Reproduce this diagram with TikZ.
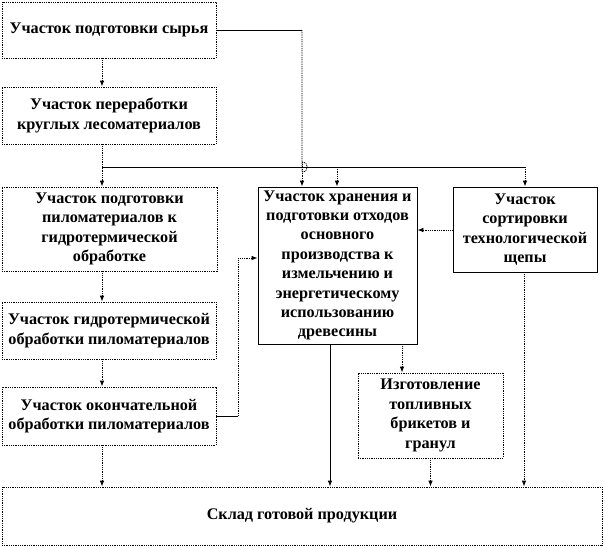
\documentclass[tikz,border=0pt]{standalone}
\usepackage{fontspec}
\setmainfont{Liberation Serif}
\usetikzlibrary{arrows.meta}

\begin{document}
\begin{tikzpicture}[x=1pt,y=-1pt,
		block/.style={draw, dash pattern=on 1pt off 0.8pt, line width=0.8pt, align=center, inner sep=1pt,
			font=\bfseries\fontsize{16.2}{19.6}\selectfont},
		mainblock/.style={block, solid},
		flow/.style={dash pattern=on 1pt off 0.8pt, line width=0.8pt, -{Latex[length=6pt,width=4.5pt]}},
		feed/.style={solid, line width=0.8pt}]
		\def \xl {102}
		\def \yb {167}

		\useasboundingbox (0,0) rectangle (605,547);

		\node[block, minimum width=214, minimum height=56] (raw) at (109,30) {Участок подготовки сырья};
		\node[block, minimum width=214, minimum height=57] (logs) at (109,115.5) {Участок переработки\\круглых лесоматериалов};
		\node[block, minimum width=215, minimum height=84] (prep) at (109.5,229) {Участок подготовки\\пиломатериалов к\\гидротермической\\обработке};
		\node[block, minimum width=214, minimum height=57] (hydro) at (109,330.5) {Участок гидротермической\\обработки пиломатериалов};
		\node[block, minimum width=214, minimum height=58] (final) at (109,416) {Участок окончательной\\обработки пиломатериалов};
		\node[mainblock, minimum width=159, minimum height=157, font=\bfseries\fontsize{16.2}{19.4}\selectfont] (waste) at (337.5,265.5)
			{Участок хранения и\\подготовки отходов\\основного\\производства к\\измельчению и\\энергетическому\\использованию\\древесины};
		\node[mainblock, minimum width=144, minimum height=85] (chips) at (525,229.5) {Участок\\сортировки\\технологической\\щепы};
		\node[block, minimum width=145, minimum height=85] (fuel) at (430.5,415.5) {Изготовление\\топливных\\брикетов и\\гранул};
		\node[block, minimum width=600, minimum height=58] (store) at (302,516) {Склад готовой продукции};

		\coordinate (bus) at (\xl,\yb);
		\coordinate (hop) at (302,\yb);
		\coordinate (back) at (238,258);

		\draw[flow] (raw.south -| bus) -- (logs.north -| bus);
		\draw[flow] (logs.south -| bus) -- (prep.north -| bus);
		\draw[feed] (bus) -- (525,\yb);
		\draw[flow] (337,\yb) -- (waste.north -| 337,0);
		\draw[flow] (525,\yb) -- (chips.north);

		\draw[feed] (raw.east) -- (raw.east -| hop);
		\draw[flow, -] (raw.east -| hop) -- ([yshift=-5]hop) .. controls ([xshift=7,yshift=-5]hop) and ([xshift=7,yshift=5]hop) .. ([yshift=5]hop);
		\draw[flow] ([yshift=5]hop) -- (waste.north -| hop);

		\draw[flow] (prep.south -| bus) -- (hydro.north -| bus);
		\draw[flow] (hydro.south -| bus) -- (final.north -| bus);
		\draw[flow] (final.south -| bus) -- (store.north -| bus);

		\draw[feed] (final.east) -- (final.east -| back);
		\draw[flow] (final.east -| back) -- (back) -- (waste.west |- back);
		\draw[flow] (chips.west |- 0,230) -- (waste.east |- 0,230);

		\draw[feed, -{Latex[length=6pt,width=4.5pt]}] (waste.south -| 330,0) -- (store.north -| 330,0);
		\draw[flow] (waste.south -| 402,0) -- (fuel.north -| 402,0);
		\draw[flow] (fuel.south) -- (store.north -| fuel.south);
		\draw[flow] (chips.south -| 524,0) -- (store.north -| 524,0);
	\end{tikzpicture}
\end{document}
